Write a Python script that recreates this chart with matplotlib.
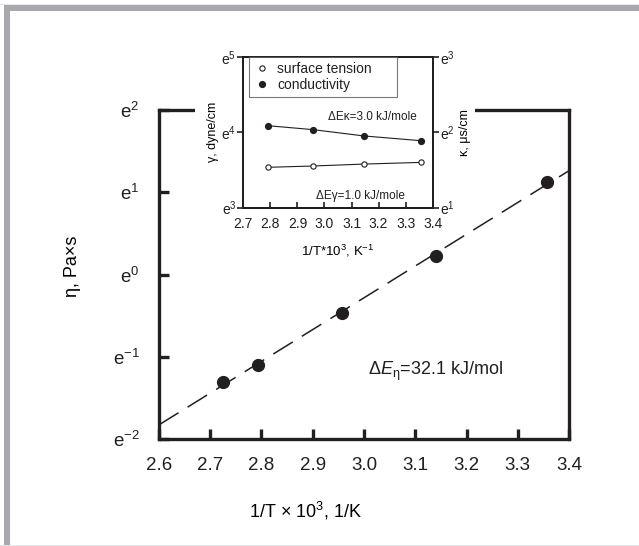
import numpy as np
import matplotlib
matplotlib.use("Agg")
import matplotlib.pyplot as plt
from matplotlib.patches import Rectangle

plt.rcParams['font.family'] = ['Liberation Sans', 'DejaVu Sans']
plt.rcParams['mathtext.fontset'] = 'custom'
plt.rcParams['mathtext.rm'] = 'Liberation Sans'
plt.rcParams['mathtext.it'] = 'Liberation Sans:italic'
plt.rcParams['text.color'] = '#231f20'
plt.rcParams['axes.edgecolor'] = '#231f20'
plt.rcParams['xtick.color'] = '#231f20'
plt.rcParams['ytick.color'] = '#231f20'

INK = '#231f20'

# main plot: viscosity vs 1/T
inv_t = [2.724, 2.793, 2.958, 3.140, 3.357]
eta = [0.270, 0.333, 0.626, 1.257, 3.08]   # Pa*s
main_xticks = [2.6, 2.7, 2.8, 2.9, 3.0, 3.1, 3.2, 3.3, 3.4]
main_ypow = [-2, -1, 0, 1, 2]

# inset: surface tension and conductivity
inv_t_in = [2.793, 2.959, 3.146, 3.358]
gamma = [34.3, 34.9, 35.8, 36.6]    # dyne/cm
kappa = [8.05, 7.64, 7.03, 6.60]    # uS/cm
in_xticks = [2.7, 2.8, 2.9, 3.0, 3.1, 3.2, 3.3, 3.4]
gamma_pow = [3, 4, 5]
kappa_pow = [1, 2, 3]

W, H = 639, 546
fig = plt.figure(figsize=(W / 100, H / 100), dpi=100)


def fbox(x0, y0, x1, y1):
    # pixel box (top-left origin) -> figure fraction rect
    return [x0 / W, 1 - y1 / H, (x1 - x0) / W, (y1 - y0) / H]


def epow(p):
    return r'$\mathregular{e^{%d}}$' % p


# gray frame
fig.add_artist(Rectangle((4 / W, 1 - 11 / H), 1, 6 / H, transform=fig.transFigure,
                         color='#a7a9ac', lw=0, zorder=5))
fig.add_artist(Rectangle((4 / W, 0), 6 / W, 1 - 5 / H, transform=fig.transFigure,
                         color='#a7a9ac', lw=0, zorder=5))
fig.add_artist(Rectangle((0, 0), 1, 1.5 / H, transform=fig.transFigure,
                         color='#e6e7e8', lw=0, zorder=5))
fig.add_artist(Rectangle((0, 1 - 5 / H), 1, 1 / H, transform=fig.transFigure,
                         color='#e6e7e8', lw=0, zorder=5))

# ---- main axes
ax = fig.add_axes(fbox(159, 110, 569, 439))
ax.set_yscale('log', base=np.e)
ax.set_xlim(2.6, 3.4)
ax.set_ylim(np.exp(-2), np.exp(2))

xfit = np.array([2.6, 3.4])
slope, icpt = np.polyfit(inv_t, np.log(eta), 1)
ax.plot(xfit, np.exp(slope * xfit + icpt), color=INK, lw=1.1,
        ls=(0, (15, 7)), zorder=2)
ax.plot(inv_t, eta, 'o', color=INK, ms=8.5, zorder=3, clip_on=False)

for s in ax.spines.values():
    s.set_linewidth(2.4)
ax.set_xticks(main_xticks)
ax.set_xticklabels([f'{v:.1f}' for v in main_xticks])
ax.set_yticks([np.exp(p) for p in main_ypow])
ax.set_yticklabels([epow(p) for p in main_ypow])
ax.yaxis.set_minor_locator(matplotlib.ticker.NullLocator())
ax.tick_params(direction='in', length=7, width=2.4, labelsize=13.5, pad=13)
ax.tick_params(axis='y', pad=14)

ax.set_xlabel('1/T × 10$^{3}$, 1/K', fontsize=13)
ax.xaxis.set_label_coords(0.358, -0.185)
ax.set_ylabel('η, Pa×s', fontsize=13)
ax.yaxis.set_label_coords(-0.19, 0.526)

ax.text(3.008, np.exp(-1.173), r'Δ$\mathit{E}_{\mathregular{η}}$=32.1 kJ/mol',
        fontsize=13, ha='left', va='center')

# white patch to hide top spine behind inset
fig.add_artist(Rectangle((195 / W, 1 - 118 / H), 280 / W, 16 / H,
                         transform=fig.transFigure, color='white', lw=0, zorder=1))

# ---- inset
axi = fig.add_axes(fbox(243.3, 56.7, 432.7, 207.7))
axi.set_zorder(2)
axk = axi.twinx()
axk.set_zorder(3)
axi.set_yscale('log', base=np.e)
axk.set_yscale('log', base=np.e)
axi.set_xlim(2.7, 3.4)
axi.set_ylim(np.exp(3), np.exp(5))
axk.set_ylim(np.exp(1), np.exp(3))

h1, = axi.plot(inv_t_in, gamma, 'o-', color=INK, lw=0.8, ms=3.8,
               mfc='white', mec=INK, mew=0.8, label='surface tension')
h2, = axk.plot(inv_t_in, kappa, 'o-', color=INK, lw=0.8, ms=4.2,
               label='conductivity')

for a in (axi, axk):
    for s in a.spines.values():
        s.set_linewidth(1.4)
    a.yaxis.set_minor_locator(matplotlib.ticker.NullLocator())

axi.set_xticks(in_xticks)
axi.set_xticklabels([f'{v:.1f}' for v in in_xticks])
axi.set_yticks([np.exp(p) for p in gamma_pow])
axi.set_yticklabels([epow(p) for p in gamma_pow])
axk.set_yticks([np.exp(p) for p in kappa_pow])
axk.set_yticklabels([epow(p) for p in kappa_pow])
axi.tick_params(axis='x', direction='in', length=4, width=1.2, labelsize=10, pad=7)
axi.tick_params(axis='y', direction='out', length=4, width=1.2, labelsize=10, pad=1)
axk.tick_params(axis='y', direction='out', length=4, width=1.2, labelsize=10, pad=1)

axi.set_xlabel('1/T*10$^{3}$, K$^{-1}$', fontsize=9.5, labelpad=8)
axi.set_ylabel('γ, dyne/cm', fontsize=9, labelpad=2)
axk.set_ylabel('κ, μs/cm', fontsize=9, rotation=90, labelpad=3)

axi.text(0.447, 0.60, 'ΔEκ=3.0 kJ/mole', transform=axi.transAxes,
         fontsize=8.5, ha='left', va='center')
axi.text(0.383, 0.08, 'ΔEγ=1.0 kJ/mole', transform=axi.transAxes,
         fontsize=8.5, ha='left', va='center')

leg = axk.legend(handles=[h1, h2], loc='upper left',
                 bbox_to_anchor=(0.03, 0.0, 0.78, 1.0), mode='expand',
                 borderaxespad=0, fontsize=10, fancybox=False, handlelength=1.2,
                 handletextpad=0.5, borderpad=0.35, labelspacing=0.2)
leg.get_frame().set_edgecolor('#555555')
leg.get_frame().set_linewidth(0.8)
for lh in leg.get_lines():
    lh.set_linestyle('none')

fig.savefig('out.png', dpi=100)
